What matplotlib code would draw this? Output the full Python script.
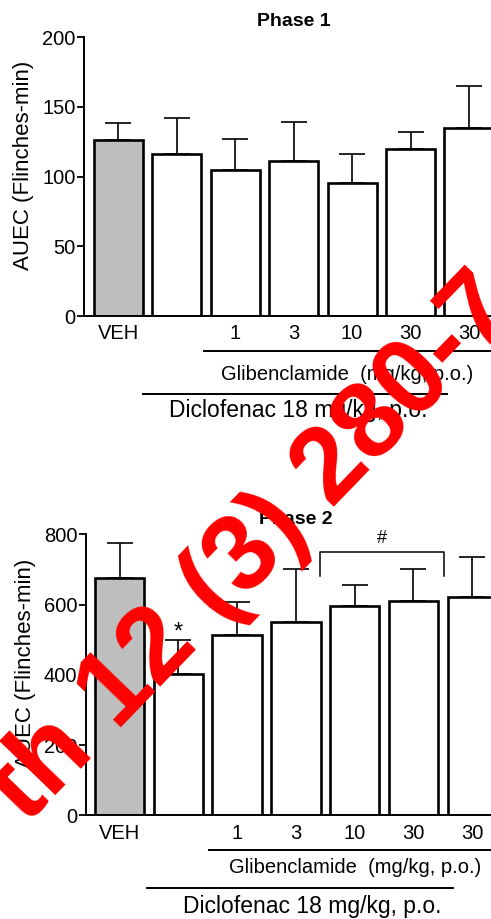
import matplotlib
matplotlib.use("Agg")
import matplotlib.pyplot as plt
import matplotlib.transforms as mtransforms

plt.rcParams['font.family'] = ['Liberation Sans', 'DejaVu Sans']

groups = ['VEH', '', '1', '3', '10', '30', '30']
bar_colors = ['#bebebe', 'white', 'white', 'white', 'white', 'white', 'white']

phase1_mean = [126, 116, 105, 111, 95, 120, 135]
phase1_sem = [12, 26, 22, 28, 21, 12, 30]

phase2_mean = [676, 401, 513, 549, 596, 611, 621]
phase2_sem = [98, 99, 93, 151, 59, 89, 113]

W, H = 491, 919
fig = plt.figure(figsize=(W / 100, H / 100), dpi=100)


def draw_panel(ax, means, sems, title, yticks):
    x = list(range(len(means)))
    ax.bar(x, means, width=0.84, color=bar_colors, edgecolor='black',
           linewidth=1.9, zorder=2)
    ax.errorbar(x, means, yerr=[[0] * len(sems), sems], fmt='none',
                ecolor='black', elinewidth=1.2, capsize=9.4, capthick=1.2,
                zorder=1)
    ax.set_ylim(0, yticks[-1])
    ax.set_yticks(yticks)
    ax.set_xticks(x)
    ax.set_xticklabels(groups, fontsize=14.5)
    ax.tick_params(axis='x', length=0, pad=6)
    ax.tick_params(axis='y', length=5, width=1.3, pad=1, labelsize=14.5)
    for s in ['top', 'right']:
        ax.spines[s].set_visible(False)
    for s in ['left', 'bottom']:
        ax.spines[s].set_linewidth(1.4)
    ax.set_ylabel('AUEC (Flinches-min)', fontsize=16, va='center')
    ax.yaxis.set_label_coords(-0.143, 0.54)
    ax.text(3.0, 1.054, title, transform=mtransforms.blended_transform_factory(ax.transData, ax.transAxes),
            ha='center', va='center', fontsize=14, fontweight='bold')


def dose_lines(ax, gl_y, gl_x0, gl_txt, dc_y, dc_x, dc_txt):
    tr = mtransforms.blended_transform_factory(ax.transData, ax.transAxes)
    ax.plot([gl_x0, 9], [gl_y, gl_y], color='black', lw=1.4, transform=tr, clip_on=False)
    ax.text(gl_txt[0], gl_txt[1], 'Glibenclamide  (mg/kg, p.o.)', transform=tr,
            ha='center', va='center', fontsize=14.5)
    ax.plot(dc_x, [dc_y, dc_y], color='black', lw=1.4, transform=tr, clip_on=False)
    ax.text(dc_txt[0], dc_txt[1], 'Diclofenac 18 mg/kg, p.o.', transform=tr,
            ha='center', va='center', fontsize=16.5)


# Phase 1
ax1 = fig.add_axes([84 / W, 1 - 316 / H, 420 / W, 279 / H])
draw_panel(ax1, phase1_mean, phase1_sem, 'Phase 1', [0, 50, 100, 150, 200])
ax1.set_xlim(-0.59, 6.6)
dose_lines(ax1, -0.125, 1.46, (3.91, -0.211), -0.2796, [0.42, 5.62], (3.07, -0.34))

# Phase 2
ax2 = fig.add_axes([85.7 / W, 1 - 815.3 / H, 423 / W, 281 / H])
draw_panel(ax2, phase2_mean, phase2_sem, 'Phase 2', [0, 200, 400, 600, 800])
ax2.set_xlim(-0.575, 6.62)
dose_lines(ax2, -0.1235, 1.52, (4.0, -0.186), -0.258, [0.47, 5.67], (3.27, -0.325))

# significance marks
ax2.text(1.0, 520, '*', ha='center', va='center', fontsize=17)
ax2.plot([3.41, 3.41, 5.52, 5.52], [681, 749, 749, 681], color='black', lw=1.1, clip_on=False)
ax2.text(4.46, 789, '#', ha='center', va='center', fontsize=13)

# watermark
fig.text(254 / W, 1 - 550 / H, 'th 12 (3) 280-7', rotation=46, rotation_mode='anchor',
         ha='center', va='center', color='red', fontsize=77, fontweight='bold', zorder=10)

fig.savefig('out.png', dpi=100)
